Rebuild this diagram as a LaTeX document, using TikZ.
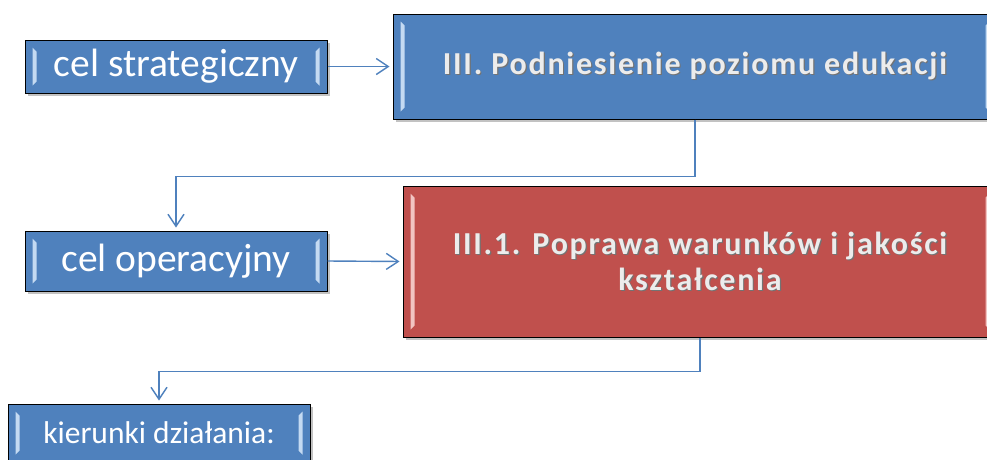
\documentclass[tikz,border=0pt]{standalone}
\usepackage{fontspec}
\setmainfont{Carlito}
\newfontfamily\spacedfont[LetterSpace=5.5]{Carlito}
\usetikzlibrary{shadows,arrows.meta}
\definecolor{boxblue}{RGB}{79,129,189}
\definecolor{boxred}{RGB}{192,80,77}
\definecolor{lineblue}{RGB}{79,129,189}
\definecolor{barblue}{RGB}{196,218,242}
\definecolor{barred}{RGB}{242,196,194}
\definecolor{txtlight}{RGB}{236,236,236}
\newcommand\shtext[1]{\leavevmode\rlap{\kern1.2pt\raisebox{-1.2pt}{\color{black!55}#1}}#1}
\tikzset{
  boxbase/.style={draw=black, line width=1pt, inner sep=0pt,
    drop shadow={shadow xshift=2.5pt, shadow yshift=-2.5pt, opacity=0.4, fill=black!60}},
  bluebox/.style={boxbase, fill=boxblue, text=white},
  redbox/.style={boxbase, fill=boxred, text=txtlight},
  smalllabel/.style={font=\fontsize{39.5}{44}\selectfont, text=white},
  biglabel/.style={font=\spacedfont\bfseries\fontsize{32}{36}\selectfont, text=txtlight, align=center},
  conn/.style={draw=lineblue, line width=1.4pt,
    -{Straight Barb[length=12pt,width=16pt,line width=1.4pt]}, shorten >=3pt},
}
% bevel bars inside a box: #1 node name, #2 color
\newcommand\bevelbars[2]{%
  \fill[#2] ([xshift=8pt,yshift=-8pt]#1.north west) -- ([xshift=12pt,yshift=-12pt]#1.north west)
     -- ([xshift=12pt,yshift=12pt]#1.south west) -- ([xshift=8pt,yshift=8pt]#1.south west) -- cycle;
  \fill[#2] ([xshift=-8pt,yshift=-8pt]#1.north east) -- ([xshift=-12pt,yshift=-12pt]#1.north east)
     -- ([xshift=-12pt,yshift=12pt]#1.south east) -- ([xshift=-8pt,yshift=8pt]#1.south east) -- cycle;
}
\begin{document}
\begin{tikzpicture}[x=1pt,y=-1pt]
\useasboundingbox (0,0) rectangle (987,459);

\node[bluebox, minimum width=302pt, minimum height=53pt] (b1) at (176,66.5) {};
\bevelbars{b1}{barblue}
\node[smalllabel] (t1) at (b1.center) {cel strategiczny};

\node[bluebox, minimum width=604pt, minimum height=105pt] (b2) at (695,66.5) {};
\bevelbars{b2}{barblue}
\node[biglabel] (t2) at (b2.center) {\shtext{III. Podniesienie poziomu edukacji}};

\node[bluebox, minimum width=302pt, minimum height=60pt] (b3) at (176,261) {};
\bevelbars{b3}{barblue}
\node[smalllabel] (t3) at (b3.center) {cel operacyjny};

\node[redbox, minimum width=594pt, minimum height=151pt] (b4) at (700,261.5) {};
\bevelbars{b4}{barred}
\node[biglabel] (t4) at (b4.center) {\shtext{III.1. Poprawa warunków i jakości}\\ \shtext{kształcenia}};

\node[bluebox, minimum width=302pt, minimum height=58pt] (b5) at (159,433) {};
\bevelbars{b5}{barblue}
\node[smalllabel, font=\fontsize{31.5}{36}\selectfont] (t5) at (b5.center) {kierunki działania:};

\draw[conn] (b1.east) -- (b2.west);
\draw[conn] (b3.east) -- (b4.west);
\draw[conn] (b2.south) -- ++(0,57) -| (b3.north);
\draw[conn] (b4.south) -- ++(0,34) -| (b5.north);
\end{tikzpicture}
\end{document}
